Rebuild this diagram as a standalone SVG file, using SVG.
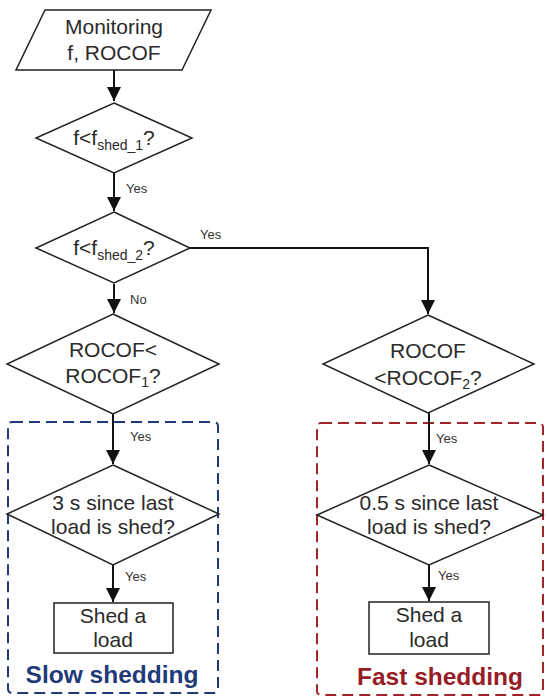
<svg xmlns="http://www.w3.org/2000/svg" width="548" height="698" viewBox="0 0 548 698">
<defs>
<style>
.shape{fill:#fff;stroke:#222;stroke-width:1.5}
.line{fill:none;stroke:#111;stroke-width:2}
.t{font-family:"Liberation Sans",Arial,sans-serif;font-size:21px;fill:#2a2a2a;text-anchor:middle}
.sub{font-size:14px}
.lbl{font-family:"Liberation Sans",Arial,sans-serif;font-size:13px;fill:#333}
.title{font-family:"Liberation Sans",Arial,sans-serif;font-size:24.5px;font-weight:bold;text-anchor:middle}
</style>
<marker id="arr" markerWidth="14" markerHeight="14" viewBox="0 0 14 14" refX="14" refY="7" orient="auto" markerUnits="userSpaceOnUse">
<path d="M0,0 L14,7 L0,14 Z" fill="#111"/>
</marker>
</defs>
<rect width="548" height="698" fill="#fff"/>

<g id="slow-group">
<rect x="8" y="422" width="210" height="271" rx="4" fill="none" stroke="#1f3a78" stroke-width="2" stroke-dasharray="11,6"/>
<text class="title" x="112" y="683" fill="#1f3a78">Slow shedding</text>
</g>
<g id="fast-group">
<rect x="317" y="423" width="226" height="272" rx="4" fill="none" stroke="#a3232b" stroke-width="2" stroke-dasharray="11,6"/>
<text class="title" x="440" y="685" fill="#961d25">Fast shedding</text>
</g>

<g id="connectors">
<path class="line" d="M114,70 V101" marker-end="url(#arr)"/>
<path class="line" d="M114,173 V211" marker-end="url(#arr)"/>
<path class="line" d="M190,248 H428 V314" marker-end="url(#arr)"/>
<path class="line" d="M114,284 V313" marker-end="url(#arr)"/>
<path class="line" d="M113,414 V464" marker-end="url(#arr)"/>
<path class="line" d="M113,565 V602" marker-end="url(#arr)"/>
<path class="line" d="M429,413 V464" marker-end="url(#arr)"/>
<path class="line" d="M429,565 V601" marker-end="url(#arr)"/>
<text class="lbl" x="126" y="193">Yes</text>
<text class="lbl" x="200" y="239">Yes</text>
<text class="lbl" x="130" y="304">No</text>
<text class="lbl" x="130" y="441">Yes</text>
<text class="lbl" x="125" y="581">Yes</text>
<text class="lbl" x="436" y="443">Yes</text>
<text class="lbl" x="438" y="580">Yes</text>
</g>

<g id="monitoring">
<polygon class="shape" points="45,10 211,10 182,70 16,70"/>
<text class="t" x="114" y="34">Monitoring</text>
<text class="t" x="114" y="60">f, ROCOF</text>
</g>

<g id="check-f1">
<polygon class="shape" points="114,103 192,138 114,173 36,138"/>
<text class="t" x="114" y="145">f&lt;f<tspan class="sub" dy="5">shed_1</tspan><tspan dy="-5">?</tspan></text>
</g>

<g id="check-f2">
<polygon class="shape" points="114,212 190,248 114,283 36,248"/>
<text class="t" x="114" y="255">f&lt;f<tspan class="sub" dy="5">shed_2</tspan><tspan dy="-5">?</tspan></text>
</g>

<g id="check-rocof1">
<polygon class="shape" points="113,314 219,364 113,414 7,364"/>
<text class="t" x="113" y="357">ROCOF&lt;</text>
<text class="t" x="113" y="383">ROCOF<tspan class="sub" dy="4">1</tspan><tspan dy="-4">?</tspan></text>
</g>

<g id="check-rocof2">
<polygon class="shape" points="428,315 534,364 428,413 323,364"/>
<text class="t" x="428" y="358">ROCOF</text>
<text class="t" x="428" y="385">&lt;ROCOF<tspan class="sub" dy="4">2</tspan><tspan dy="-4">?</tspan></text>
</g>

<g id="wait-3s">
<polygon class="shape" points="113,465 219,514 113,565 7,514"/>
<text class="t" x="113" y="510">3 s since last</text>
<text class="t" x="113" y="534">load is shed?</text>
</g>

<g id="wait-05s">
<polygon class="shape" points="429,465 543,515 429,565 317,515"/>
<text class="t" x="429" y="510">0.5 s since last</text>
<text class="t" x="429" y="534">load is shed?</text>
</g>

<g id="shed-slow">
<rect class="shape" x="54" y="603" width="119" height="50"/>
<text class="t" x="113" y="623">Shed a</text>
<text class="t" x="113" y="647">load</text>
</g>

<g id="shed-fast">
<rect class="shape" x="369" y="602" width="120" height="52"/>
<text class="t" x="429" y="622">Shed a</text>
<text class="t" x="429" y="647">load</text>
</g>
</svg>
